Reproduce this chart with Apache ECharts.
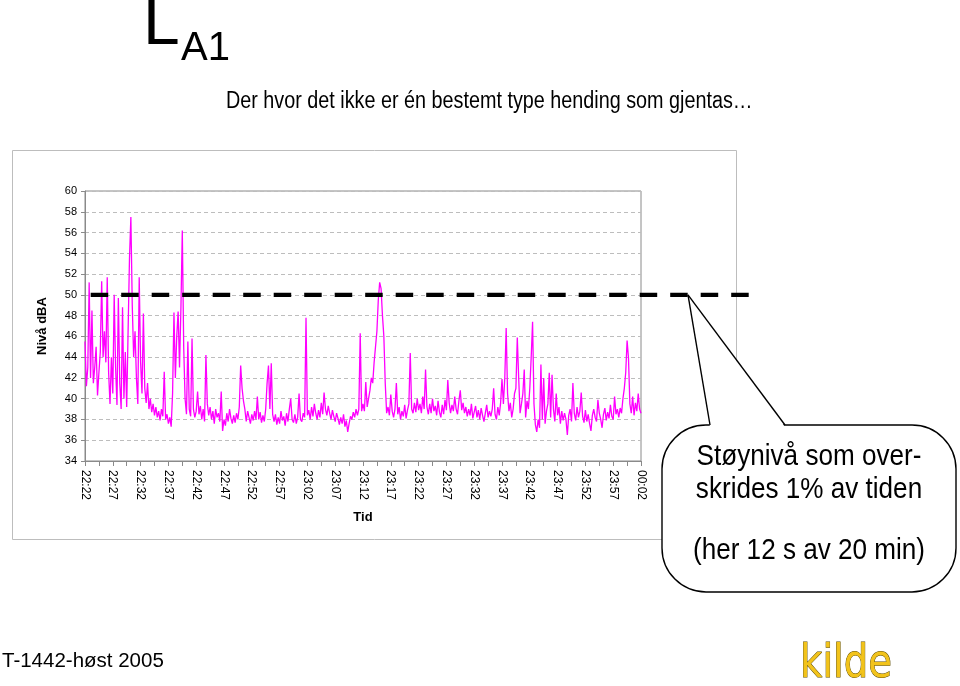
<!DOCTYPE html>
<html>
<head>
<meta charset="utf-8">
<script src="https://cdn.jsdelivr.net/npm/echarts@6/dist/echarts.min.js"></script>
<style>
  html, body { margin: 0; padding: 0; background: #fff; }
  #chart { width: 960px; height: 686px; }
</style>
</head>
<body>
<div id="chart"></div>
<script>
// ---- data (dBA, one reading every 15 s from 22:22 to 00:02) ----
const stepMinutes = 0.25;
const level2222 = [
  45.5, 41.2, 43.0, 51.2,  42.0, 48.5, 41.5, 43.0,  45.0, 40.3, 42.5, 44.5,  51.3, 44.0, 46.5, 43.5,
  51.7, 42.5, 39.5, 44.0,  40.5, 50.0, 43.0, 39.4,  49.7, 41.5, 39.0, 48.8,  40.0, 44.5, 39.2, 46.5,
  53.5, 57.5, 49.0, 44.0,  46.5, 42.0, 39.5, 51.7,  43.5, 40.5, 48.2, 41.0,  39.6, 41.5, 39.0, 40.0,
  38.7, 39.5, 38.4, 39.2,  38.2, 38.8, 37.9, 39.0,  38.3, 42.6, 38.0, 38.5,  37.6, 38.2, 37.3, 40.5,
  48.3, 42.0, 46.0, 48.4,  43.0, 48.7, 56.2, 45.0,  40.0, 38.5, 45.5, 39.0,  38.3, 45.8, 39.0, 38.2
];
const level2242 = [
  38.8, 40.7, 38.5, 39.3,  38.0, 39.0, 37.8, 44.2,  39.5, 38.4, 39.2, 38.0,  38.8, 37.6, 39.0, 38.2,
  38.6, 37.8, 40.7, 36.9,  38.0, 37.4, 38.6, 37.8,  39.0, 38.1, 37.6, 38.4,  37.7, 38.6, 38.0, 39.2,
  43.2, 41.0, 39.8, 39.0,  37.8, 38.8, 38.2, 37.6,  38.5, 37.9, 38.8, 38.0,  40.2, 38.0, 38.7, 37.7,
  38.4, 37.8, 39.0, 41.5,  43.2, 39.0, 43.4, 38.5,  37.8, 38.5, 37.5, 38.2,  37.6, 38.8, 37.9, 38.3,
  37.4, 38.6, 37.8, 39.0,  40.0, 38.0, 37.7, 38.5,  37.6, 38.2, 40.5, 38.0,  37.8, 38.6, 38.2, 47.8
];
const level2302 = [
  38.4, 38.9, 38.0, 39.2,  38.3, 39.5, 38.6, 38.0,  38.9, 38.2, 39.6, 38.5,  40.6, 39.0, 38.4, 39.3,
  38.6, 38.0, 38.9, 38.3,  37.8, 38.6, 38.1, 37.5,  38.2, 37.6, 38.5, 37.3,  37.9, 36.8, 37.6, 38.3,
  38.0, 38.7, 38.2, 39.0,  38.4, 39.0, 46.3, 38.8,  39.5, 38.8, 41.6, 39.2,  40.0, 40.8, 42.0, 41.5,
  43.5, 45.0, 46.5, 49.5,  51.2, 50.6, 48.0, 46.0,  41.5, 38.6, 39.2, 38.4,  40.4, 38.8, 38.2, 39.0,
  41.5, 38.5, 39.2, 38.0,  38.8, 38.3, 39.4, 38.1,  38.9, 39.5, 44.4, 39.0,  38.6, 39.6, 38.7, 40.0
];
const level2322 = [
  38.9, 39.5, 38.6, 40.2,  39.0, 42.8, 39.2, 38.5,  39.5, 38.6, 40.0, 38.8,  39.3, 38.4, 39.8, 38.7,
  38.2, 39.4, 38.5, 39.9,  38.9, 41.8, 39.6, 38.6,  39.4, 38.8, 40.2, 39.0,  38.5, 39.8, 40.8, 38.9,
  39.6, 38.6, 39.2, 38.3,  39.0, 38.4, 39.5, 38.1,  38.7, 39.3, 38.2, 38.9,  38.0, 39.1, 38.4, 37.8,
  38.6, 39.4, 38.2, 38.8,  38.3, 39.0, 41.0, 38.5,  38.0, 39.2, 38.4, 39.6,  41.9, 39.5, 42.0, 46.8,
  40.5, 38.8, 39.6, 38.2,  39.0, 40.5, 41.0, 45.9,  42.0, 38.6, 39.5, 40.5,  42.8, 38.2, 39.8, 39.0
];
const level2342 = [
  41.0, 44.0, 47.4, 39.5,  37.5, 36.8, 38.0, 37.2,  43.3, 38.0, 42.0, 37.6,  38.8, 39.5, 42.5, 38.2,
  42.3, 39.0, 37.8, 40.5,  38.4, 39.2, 37.6, 38.8,  37.9, 38.6, 38.0, 36.5,  38.4, 39.0, 37.8, 41.5,
  38.6, 37.9, 39.2, 38.2,  38.8, 40.6, 38.3, 37.7,  38.9, 37.8, 38.5, 37.6,  36.9, 38.4, 39.0, 38.2,
  37.8, 39.9, 38.6, 38.0,  37.2, 38.5, 39.1, 37.9,  38.7, 38.1, 39.4, 38.3,  38.0, 40.2, 38.5, 39.0,
  38.2, 39.1, 38.6, 40.0,  41.0, 42.5, 45.6, 43.9,  39.5, 38.6, 40.2, 38.4,  39.6, 38.8, 40.5, 39.0,
  38.6
];
const timeTickLabels = ['22:22','22:27','22:32','22:37','22:42','22:47','22:52','22:57','23:02','23:07',
  '23:12','23:17','23:22','23:27','23:32','23:37','23:42','23:47','23:52','23:57','00:02'];
const thresholdLevel = 50;

const levels = [].concat(level2222, level2242, level2302, level2322, level2342);
const seriesData = levels.map((v, i) => [i * stepMinutes, v]);

const FONT = '"Liberation Sans", Arial, sans-serif';
const chart = echarts.init(document.getElementById('chart'), null, { renderer: 'canvas' });

const option = {
  animation: false,
  backgroundColor: '#ffffff',
  grid: { left: 85, right: 319, top: 191, bottom: 225, show: true, borderColor: '#8a8a8a', borderWidth: 1, containLabel: false },
  xAxis: {
    type: 'value', min: 0, max: 100, interval: 2.5,
    name: 'Tid', nameLocation: 'middle', nameGap: 50,
    nameTextStyle: { fontFamily: FONT, fontSize: 13, fontWeight: 'bold', color: '#000' },
    axisLine: { show: true, lineStyle: { color: '#8a8a8a', width: 1 } },
    axisTick: { show: true, length: 5, lineStyle: { color: '#8a8a8a' } },
    axisLabel: {
      rotate: -90, margin: 9, fontFamily: FONT, fontSize: 12, color: '#000', showMaxLabel: true, showMinLabel: true,
      formatter: function (v) { return (Math.round(v * 10) % 50 === 0) ? timeTickLabels[Math.round(v / 5)] : ''; }
    },
    splitLine: { show: false }
  },
  yAxis: {
    type: 'value', min: 34, max: 60, interval: 2,
    name: 'Nivå dBA', nameLocation: 'middle', nameGap: 36, nameRotate: 90,
    nameTextStyle: { fontFamily: FONT, fontSize: 13, fontWeight: 'bold', color: '#000' },
    axisLine: { show: true, lineStyle: { color: '#8a8a8a', width: 1 } },
    axisTick: { show: true, length: 4, lineStyle: { color: '#8a8a8a' } },
    axisLabel: { margin: 8, fontFamily: FONT, fontSize: 11, color: '#000' },
    splitLine: { show: true, lineStyle: { color: '#bdbdbd', type: [4, 3], width: 1 } }
  },
  series: [{
    type: 'line', data: seriesData, showSymbol: false, symbol: 'none',
    lineStyle: { color: '#ff00ff', width: 1.3 }, itemStyle: { color: '#ff00ff' }
  }]
};
chart.setOption(option);

const yThr = chart.convertToPixel({ yAxisIndex: 0 }, thresholdLevel);
const apex = [688, yThr];

chart.setOption({
  graphic: [
    { type: 'rect', z: 1, shape: { x: 12.5, y: 150.5, width: 724, height: 389 }, style: { fill: 'none', stroke: '#bdbdbd', lineWidth: 1 } },
    { type: 'text', x: 143, y: 26, style: { text: 'L', font: '66px ' + FONT, fill: '#000', textAlign: 'left', textVerticalAlign: 'middle' } },
    { type: 'text', x: 181, y: 49, style: { text: 'A1', font: '40px ' + FONT, fill: '#000', textAlign: 'left', textVerticalAlign: 'middle' } },
    { type: 'text', x: 226, y: 102, scaleX: 0.86, style: { text: 'Der hvor det ikke er én bestemt type hending som gjentas…', font: '23px ' + FONT, fill: '#000', textAlign: 'left', textVerticalAlign: 'middle' } },
    { type: 'line', z: 10, shape: { x1: 90.7, y1: yThr, x2: 752, y2: yThr }, style: { stroke: '#000', lineWidth: 4.3, lineDash: [17.5, 13] } },
    { type: 'rect', z: 20, shape: { x: 662, y: 425, width: 294, height: 167, r: 44 }, style: { fill: '#fff', stroke: '#000', lineWidth: 1.4 } },
    { type: 'polygon', z: 21, shape: { points: [apex, [710, 427], [785, 427]] }, style: { fill: '#fff', stroke: 'none' } },
    { type: 'line', z: 22, shape: { x1: apex[0], y1: apex[1], x2: 710, y2: 425 }, style: { stroke: '#000', lineWidth: 1.4 } },
    { type: 'line', z: 22, shape: { x1: apex[0], y1: apex[1], x2: 785, y2: 425 }, style: { stroke: '#000', lineWidth: 1.4 } },
    { type: 'text', z: 23, x: 809, y: 457, scaleX: 0.87, style: { text: 'Støynivå som over-', font: '30px ' + FONT, fill: '#000', textAlign: 'center', textVerticalAlign: 'middle' } },
    { type: 'text', z: 23, x: 809, y: 490, scaleX: 0.87, style: { text: 'skrides 1% av tiden', font: '30px ' + FONT, fill: '#000', textAlign: 'center', textVerticalAlign: 'middle' } },
    { type: 'text', z: 23, x: 809, y: 551, scaleX: 0.87, style: { text: '(her 12 s av 20 min)', font: '30px ' + FONT, fill: '#000', textAlign: 'center', textVerticalAlign: 'middle' } },
    { type: 'text', x: 2, y: 661, style: { text: 'T-1442-høst 2005', font: '20.5px ' + FONT, fill: '#000', textAlign: 'left', textVerticalAlign: 'middle' } },
    { type: 'text', x: 800, y: 665, scaleX: 0.84, style: { text: 'kilde', font: '46px "DejaVu Sans", sans-serif', fill: '#f2c31a', stroke: '#5c4a00', lineWidth: 1, textAlign: 'left', textVerticalAlign: 'middle' } }
  ]
});
</script>
</body>
</html>
